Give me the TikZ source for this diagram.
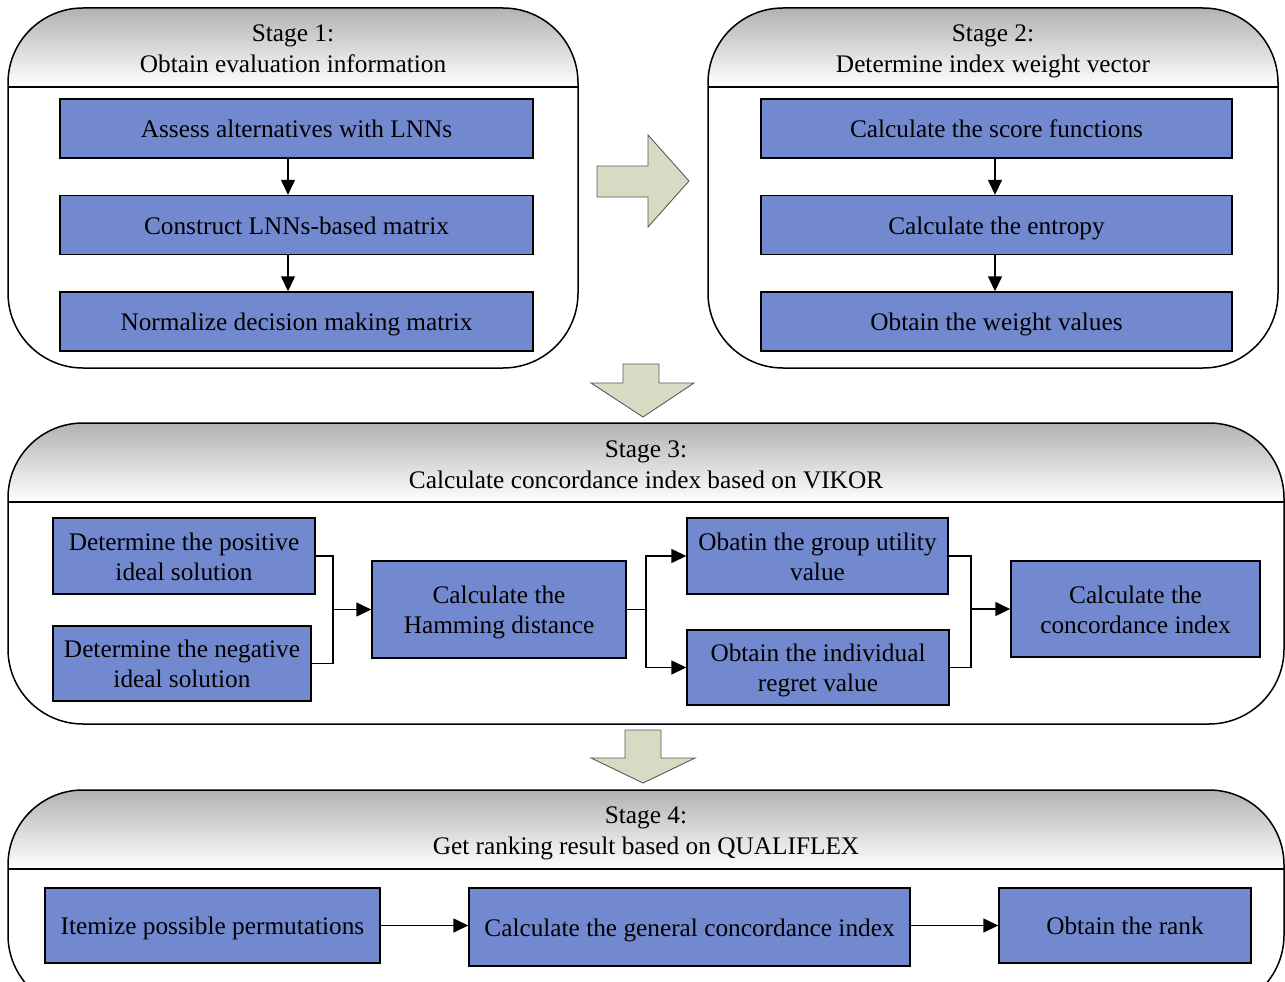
\documentclass[tikz,border=0pt]{standalone}
\usepackage{fontspec}
\setmainfont{Liberation Serif}
\usetikzlibrary{arrows.meta}
\definecolor{boxblue}{RGB}{115,137,207}
\definecolor{hdrtop}{RGB}{178,178,178}
\definecolor{bigarrow}{RGB}{214,220,196}
\definecolor{bigarrowline}{RGB}{90,90,90}
\newcommand{\ls}{\rule[-6pt]{0pt}{30pt}}
\tikzset{
  procbox/.style={draw=black, line width=1.4pt, fill=boxblue, align=center, inner sep=0pt, font=\fontsize{25.3}{30}\selectfont},
  hdrtext/.style={align=center, inner sep=0pt, font=\fontsize{25.3}{31}\selectfont},
  stageframe/.style={draw=black, line width=1.5pt, rounded corners=75pt},
  arr/.style={line width=1.4pt, -{Triangle[length=15pt,width=14pt]}},
  conn/.style={line width=1.4pt},
  blockarrow/.style={fill=bigarrow, draw=bigarrowline, line width=0.9pt, line join=miter}
}
\newcommand{\stagebox}[5]{% x1,y1,x2,y2,ysep
  \begin{scope}
    \clip[rounded corners=75pt] (#1,#2) rectangle (#3,#4);
    \shade[top color=hdrtop, bottom color=white] (#1,#2) rectangle (#3,#5);
  \end{scope}
  \draw[stageframe] (#1,#2) rectangle (#3,#4);
  \draw[line width=1.5pt] (#1,#5) -- (#3,#5);
}
\begin{document}
\begin{tikzpicture}[x=1pt,y=-1pt]
\useasboundingbox (0,0) rectangle (1285,982);
\clip (0,0) rectangle (1285,982);
\fill[white] (0,0) rectangle (1285,982);

% ---------- Stage 1 ----------
\stagebox{8}{8}{578}{368}{87}
\node[hdrtext] (h1) at (293,48) {Stage 1:\ls\\Obtain evaluation information\ls};
\node[procbox, minimum width=473pt, minimum height=59pt] (s1a) at (296.5,128.5) {Assess alternatives with LNNs\ls};
\node[procbox, minimum width=473pt, minimum height=59pt] (s1b) at (296.5,225) {Construct LNNs-based matrix\ls};
\node[procbox, minimum width=473pt, minimum height=59pt] (s1c) at (296.5,321.5) {Normalize decision making matrix\ls};
\draw[arr] (s1a.south -| 288,0) -- (s1b.north -| 288,0);
\draw[arr] (s1b.south -| 288,0) -- (s1c.north -| 288,0);

% ---------- Stage 2 ----------
\stagebox{708}{8}{1278}{368}{87}
\node[hdrtext] (h2) at (993,48) {Stage 2:\ls\\Determine index weight vector\ls};
\node[procbox, minimum width=471pt, minimum height=59pt] (s2a) at (996.5,128.5) {Calculate the score functions\ls};
\node[procbox, minimum width=471pt, minimum height=59pt] (s2b) at (996.5,225) {Calculate the entropy\ls};
\node[procbox, minimum width=471pt, minimum height=59pt] (s2c) at (996.5,321.5) {Obtain the weight values\ls};
\draw[arr] (s2a.south -| 995,0) -- (s2b.north -| 995,0);
\draw[arr] (s2b.south -| 995,0) -- (s2c.north -| 995,0);

% ---------- block arrows ----------
\draw[blockarrow] (597,166) -- (648,166) -- (648,135) -- (689,181) -- (648,227) -- (648,197) -- (597,197) -- cycle;
\draw[blockarrow] (623,364) -- (659,364) -- (659,383) -- (694,383) -- (643,417) -- (591,383) -- (623,383) -- cycle;
\draw[blockarrow] (625,730) -- (661,730) -- (661,758) -- (695,758) -- (643,783) -- (591,758) -- (625,758) -- cycle;

% ---------- Stage 3 ----------
\stagebox{8}{423}{1284}{724}{502}
\node[hdrtext] (h3) at (646,463.5) {Stage 3:\ls\\Calculate concordance index based on VIKOR\ls};
\node[procbox, minimum width=262pt, minimum height=76pt] (pos) at (184,556) {Determine the positive\ls\\ideal solution\ls};
\node[procbox, minimum width=258pt, minimum height=75pt] (neg) at (182,663.5) {Determine the negative\ls\\ideal solution\ls};
\node[procbox, minimum width=254pt, minimum height=97pt] (ham) at (499,609.5) {Calculate the\ls\\Hamming distance\ls};
\node[procbox, minimum width=261pt, minimum height=76pt] (gu) at (817.5,556) {Obatin the group utility\ls\\value\ls};
\node[procbox, minimum width=262pt, minimum height=75pt] (ir) at (818,667.5) {Obtain the individual\ls\\regret value\ls};
\node[procbox, minimum width=249pt, minimum height=96pt] (conc) at (1135.5,609) {Calculate the\ls\\concordance index\ls};
\coordinate (j1) at (333,609.5);
\coordinate (j2) at (646,609.5);
\coordinate (j3) at (971,609);
\draw[conn] (pos.east) -| (j1);
\draw[conn] (neg.east) -| (j1);
\draw[arr] (j1) -- (ham.west);
\draw[conn] (ham.east) -- (j2);
\draw[arr] (j2) |- (gu.west);
\draw[arr] (j2) |- (ir.west);
\draw[conn] (gu.east) -| (j3);
\draw[conn] (ir.east) -| (j3);
\draw[arr] (j3) -- (conc.west);

% ---------- Stage 4 ----------
\stagebox{8}{790}{1284}{1010}{869}
\node[hdrtext] (h4) at (646,829.5) {Stage 4:\ls\\Get ranking result based on QUALIFLEX\ls};
\node[procbox, minimum width=335pt, minimum height=75pt] (item) at (212.5,925.5) {Itemize possible permutations\ls};
\node[procbox, minimum width=441pt, minimum height=78pt] (gen) at (689.5,927) {Calculate the general concordance index\ls};
\node[procbox, minimum width=252pt, minimum height=75pt] (rank) at (1125,925.5) {Obtain the rank\ls};
\draw[arr] (item.east) -- (item.east -| gen.west);
\draw[arr] (item.east -| gen.east) -- (item.east -| rank.west);
\end{tikzpicture}
\end{document}
